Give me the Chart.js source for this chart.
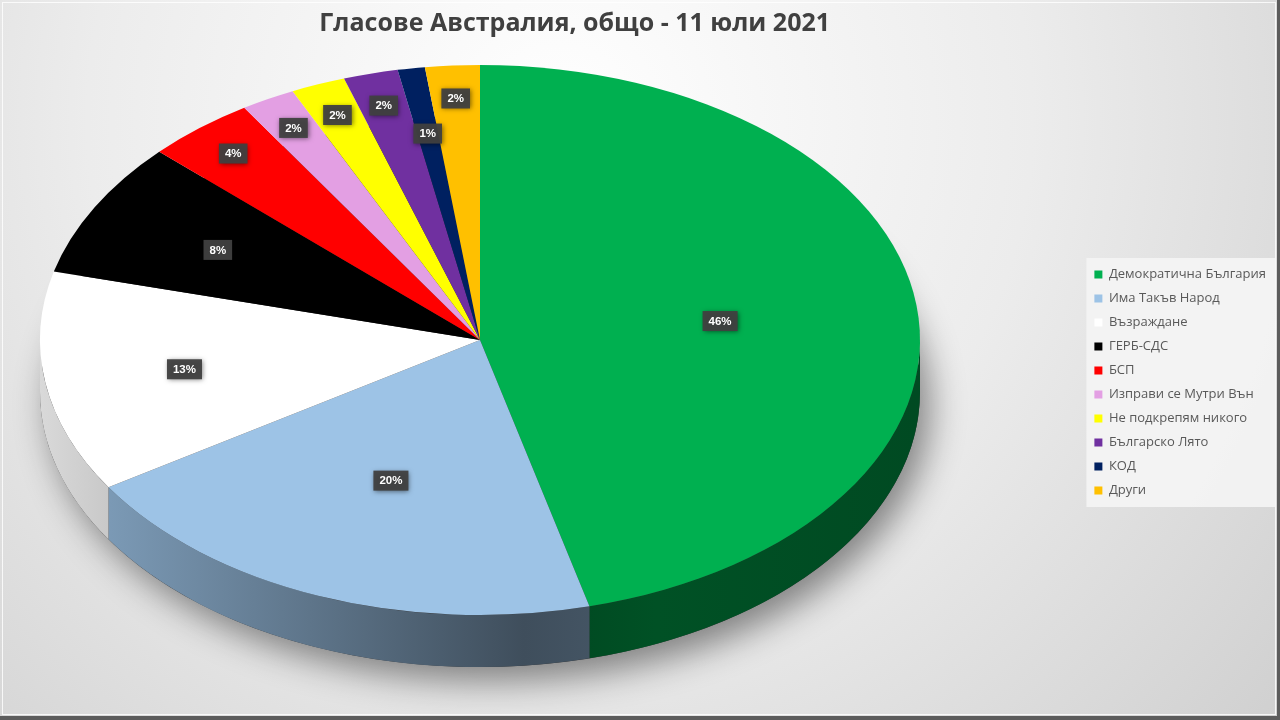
<!DOCTYPE html>
<html><head><meta charset="utf-8">
<script src="https://cdn.jsdelivr.net/npm/chart.js@4"></script>
<style>html,body{margin:0;padding:0;background:#e6e6e6;overflow:hidden}canvas{display:block}</style>
</head><body>
<canvas id="c" width="1280" height="720"></canvas>
<script>
const titleText = 'Гласове Австралия, общо - 11 юли 2021';
const categories = ['Демократична България','Има Такъв Народ','Възраждане','ГЕРБ-СДС','БСП','Изправи се Мутри Вън','Не подкрепям никого','Българско Лято','КОД','Други'];
const values = [46, 20, 13, 8, 4, 2, 2, 2, 1, 2];
const colors = ['#00b050','#9dc3e6','#ffffff','#000000','#ff0000','#e39fe3','#ffff00','#7030a0','#002060','#ffc000'];

const total = values.reduce((a, b) => a + b, 0);
const PIE = {cx: 480, cy: 340, rx: 440, ry: 275, depth: 52};

function shade(hex, f) {
  const n = parseInt(hex.slice(1), 16);
  const r = Math.round(((n >> 16) & 255) * f), g = Math.round(((n >> 8) & 255) * f), b = Math.round((n & 255) * f);
  return `rgb(${r},${g},${b})`;
}

const pie3d = {
  id: 'pie3d',
  beforeDraw(chart) {
    const ctx = chart.ctx, W = chart.width, H = chart.height;
    ctx.save();
    const bg = ctx.createRadialGradient(560, 120, 0, 560, 120, 1050);
    bg.addColorStop(0, '#ffffff');
    bg.addColorStop(0.45, '#ececec');
    bg.addColorStop(1, '#c9c9c9');
    ctx.fillStyle = bg;
    ctx.fillRect(0, 0, W, H);
    ctx.fillStyle = '#5c5c5c';
    ctx.fillRect(0, H - 4, W, 4);
    ctx.fillRect(W - 3, 0, 3, H);
    ctx.strokeStyle = 'rgba(255,255,255,0.8)';
    ctx.lineWidth = 1;
    ctx.strokeRect(2.5, 2.5, W - 7, H - 8);
    const lg = chart.legend;
    if (lg && lg.legendHitBoxes && lg.legendHitBoxes.length) {
      const hb = lg.legendHitBoxes;
      const top = Math.min(...hb.map(b => b.top)) - 10;
      const bottom = Math.max(...hb.map(b => b.top + b.height)) + 10;
      const left = Math.min(...hb.map(b => b.left)) - 8;
      ctx.fillStyle = 'rgba(243,243,243,0.95)';
      ctx.fillRect(left, top, W - 5 - left, bottom - top);
    }
    ctx.restore();
  },
  beforeDatasetsDraw(chart) {
    const ctx = chart.ctx;
    const meta = chart.getDatasetMeta(0);
    const {cx, cy, rx, ry, depth} = PIE;
    ctx.save();
    ctx.shadowColor = 'rgba(0,0,0,0.45)';
    ctx.shadowBlur = 35;
    ctx.shadowOffsetX = 10;
    ctx.shadowOffsetY = 14;
    ctx.fillStyle = '#333';
    ctx.beginPath();
    ctx.ellipse(cx, cy + depth, rx, ry, 0, 0, Math.PI * 2);
    ctx.fill();
    ctx.restore();
    meta.data.forEach((arc, i) => {
      const lo = Math.max(arc.startAngle, 0), hi = Math.min(arc.endAngle, Math.PI);
      if (lo >= hi) return;
      const g = ctx.createLinearGradient(cx - rx, 0, cx + rx, 0);
      g.addColorStop(0, shade(colors[i], 0.85));
      g.addColorStop(0.55, shade(colors[i], 0.4));
      g.addColorStop(0.7, shade(colors[i], 0.46));
      g.addColorStop(1, shade(colors[i], 0.42));
      ctx.save();
      ctx.beginPath();
      ctx.ellipse(cx, cy, rx, ry, 0, lo, hi);
      ctx.ellipse(cx, cy + depth, rx, ry, 0, hi, lo, true);
      ctx.closePath();
      ctx.fillStyle = g;
      ctx.fill();
      ctx.restore();
    });
    const a = meta.data[0];
    ctx.save();
    ctx.translate(cx, cy);
    ctx.scale(rx / a.outerRadius, ry / a.outerRadius);
    ctx.translate(-a.x, -a.y);
  },
  afterDatasetsDraw(chart) {
    const ctx = chart.ctx;
    ctx.restore();
    const meta = chart.getDatasetMeta(0);
    const {cx, cy, rx, ry} = PIE;
    const placed = [];
    ctx.save();
    ctx.font = 'bold 11.5px "Liberation Sans", Arial, sans-serif';
    const order = values.map((v, i) => i).sort((p, q) => values[q] - values[p] || p - q);
    order.forEach(i => {
      const arc = meta.data[i];
      const mid = (arc.startAngle + arc.endAngle) / 2;
      const share = values[i] / total;
      const txt = Math.round(share * 100) + '%';
      const w = ctx.measureText(txt).width + 12, h = 20;
      let f = share >= 0.15 ? 0.55 : (share >= 0.05 ? 0.68 : 0.88);
      let x, y;
      for (let k = 0; k < 20; k++) {
        x = cx + rx * f * Math.cos(mid);
        y = cy + ry * f * Math.sin(mid);
        const hit = placed.some(p => Math.abs(p.x - x) < (p.w + w) / 2 + 8 && Math.abs(p.y - y) < (p.h + h) / 2 + 8);
        if (!hit) break;
        f -= 0.04;
      }
      placed.push({x, y, w, h});
      ctx.save();
      ctx.shadowColor = 'rgba(0,0,0,0.55)';
      ctx.shadowBlur = 5;
      ctx.shadowOffsetX = 1;
      ctx.shadowOffsetY = 1;
      ctx.fillStyle = 'rgba(64,64,64,0.95)';
      ctx.fillRect(x - w / 2, y - h / 2, w, h);
      ctx.shadowColor = 'transparent';
      ctx.fillStyle = '#ffffff';
      ctx.textAlign = 'center';
      ctx.textBaseline = 'middle';
      ctx.fillText(txt, x, y + 0.5);
      ctx.restore();
    });
    ctx.restore();
  }
};

new Chart(document.getElementById('c'), {
  type: 'pie',
  data: {
    labels: categories,
    datasets: [{
      data: values,
      backgroundColor: colors,
      borderWidth: 0,
      clip: false
    }]
  },
  options: {
    responsive: false,
    devicePixelRatio: 1,
    animation: false,
    events: [],
    layout: {padding: {left: 66, right: 4, top: 0, bottom: 4}},
    plugins: {
      title: {
        display: true,
        text: titleText,
        color: '#404040',
        font: {family: '"Open Sans", sans-serif', size: 25, weight: 'bold'},
        padding: {top: 9, bottom: 10},
        fullSize: false
      },
      legend: {
        position: 'right',
        fullSize: false,
        labels: {
          color: '#595959',
          font: {family: '"Open Sans", sans-serif', size: 13},
          boxWidth: 8,
          boxHeight: 8,
          padding: 11
        }
      },
      tooltip: {enabled: false}
    }
  },
  plugins: [pie3d]
});
</script>
</body></html>
